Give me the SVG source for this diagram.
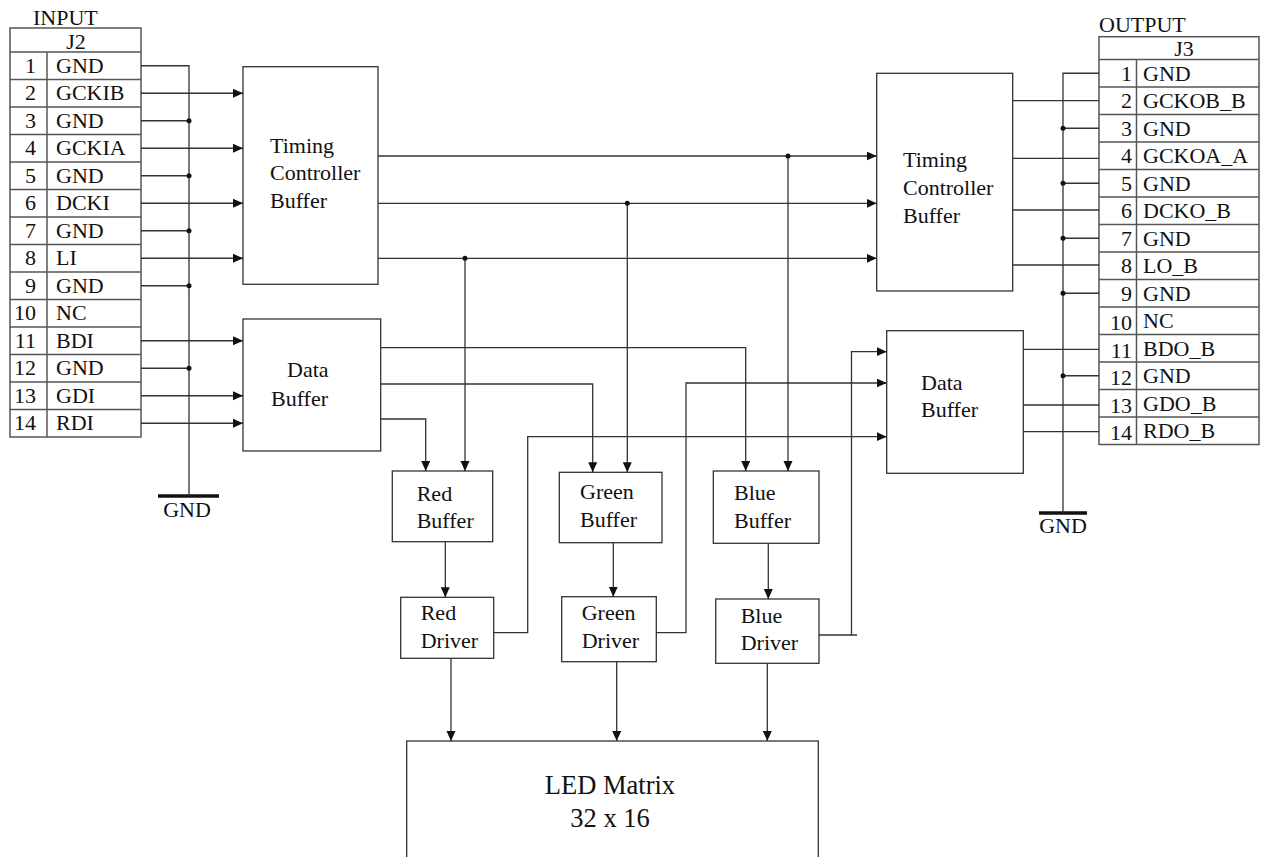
<svg xmlns="http://www.w3.org/2000/svg" width="1261" height="857" viewBox="0 0 1261 857" font-family="Liberation Serif, serif">
<style>
text{font-family:'Liberation Serif','Times New Roman',Times,'DejaVu Serif',serif;font-size:22px;fill:#111}
.big{font-size:26.5px}
.tbl{fill:none;stroke:#555;stroke-width:1.5}
.box{fill:#fff;stroke:#333;stroke-width:1.3}
.w{fill:none;stroke:#333;stroke-width:1.3}
.arr{fill:none;stroke:#333;stroke-width:1.3;marker-end:url(#ah)}
.dot{fill:#111}
.gbar{stroke:#111;stroke-width:3.5}
.num{text-anchor:end}
.mid{text-anchor:middle}
</style>
<defs>
<marker id="ah" markerUnits="userSpaceOnUse" markerWidth="11" markerHeight="10" refX="10" refY="4.5" orient="auto">
<path d="M0,0 L10,4.5 L0,9 Z" fill="#111"/>
</marker>
</defs>
<rect width="1261" height="857" fill="#fff"/>

<g id="J2">
<text x="33" y="25">INPUT</text>
<rect class="tbl" x="10" y="28" width="131" height="409"/>
<path class="tbl" d="M10,52H141M10,79.5H141M10,107H141M10,134.5H141M10,162H141M10,189.5H141M10,217H141M10,244.5H141M10,272H141M10,299.5H141M10,327H141M10,354.5H141M10,382H141M10,409.5H141M47,52V437"/>
<text class="mid" x="76" y="49">J2</text>
<text class="num" x="36" y="72.75">1</text><text x="56" y="72.75">GND</text>
<text class="num" x="36" y="100.25">2</text><text x="56" y="100.25">GCKIB</text>
<text class="num" x="36" y="127.75">3</text><text x="56" y="127.75">GND</text>
<text class="num" x="36" y="155.25">4</text><text x="56" y="155.25">GCKIA</text>
<text class="num" x="36" y="182.75">5</text><text x="56" y="182.75">GND</text>
<text class="num" x="36" y="210.25">6</text><text x="56" y="210.25">DCKI</text>
<text class="num" x="36" y="237.75">7</text><text x="56" y="237.75">GND</text>
<text class="num" x="36" y="265.25">8</text><text x="56" y="265.25">LI</text>
<text class="num" x="36" y="292.75">9</text><text x="56" y="292.75">GND</text>
<text class="num" x="36" y="320.25">10</text><text x="56" y="320.25">NC</text>
<text class="num" x="36" y="347.75">11</text><text x="56" y="347.75">BDI</text>
<text class="num" x="36" y="375.25">12</text><text x="56" y="375.25">GND</text>
<text class="num" x="36" y="402.75">13</text><text x="56" y="402.75">GDI</text>
<text class="num" x="36" y="430.25">14</text><text x="56" y="430.25">RDI</text>
</g>

<g id="J3">
<text x="1099" y="32">OUTPUT</text>
<rect class="tbl" x="1099" y="36.7" width="160" height="407.8"/>
<path class="tbl" d="M1099,59.5H1259M1099,87H1259M1099,114.5H1259M1099,142H1259M1099,169.5H1259M1099,197H1259M1099,224.5H1259M1099,252H1259M1099,279.5H1259M1099,307H1259M1099,334.5H1259M1099,362H1259M1099,389.5H1259M1099,417H1259M1136.5,59.5V444.5"/>
<text class="mid" x="1184" y="56">J3</text>
<text class="num" x="1132" y="80.5">1</text><text x="1143" y="80.5">GND</text>
<text class="num" x="1132" y="108">2</text><text x="1143" y="108">GCKOB_B</text>
<text class="num" x="1132" y="135.5">3</text><text x="1143" y="135.5">GND</text>
<text class="num" x="1132" y="163">4</text><text x="1143" y="163">GCKOA_A</text>
<text class="num" x="1132" y="190.5">5</text><text x="1143" y="190.5">GND</text>
<text class="num" x="1132" y="218">6</text><text x="1143" y="218">DCKO_B</text>
<text class="num" x="1132" y="245.5">7</text><text x="1143" y="245.5">GND</text>
<text class="num" x="1132" y="273">8</text><text x="1143" y="273">LO_B</text>
<text class="num" x="1132" y="300.5">9</text><text x="1143" y="300.5">GND</text>
<text class="num" x="1132" y="330">10</text><text x="1143" y="328">NC</text>
<text class="num" x="1132" y="357.5">11</text><text x="1143" y="355.5">BDO_B</text>
<text class="num" x="1132" y="385">12</text><text x="1143" y="383">GND</text>
<text class="num" x="1132" y="412.5">13</text><text x="1143" y="410.5">GDO_B</text>
<text class="num" x="1132" y="440">14</text><text x="1143" y="438">RDO_B</text>
</g>

<g id="tcb-in">
<rect class="box" x="243" y="66.7" width="135" height="217.6"/>
<text x="270" y="153">Timing</text>
<text x="270" y="180">Controller</text>
<text x="270" y="208">Buffer</text>
</g>

<g id="db-in">
<rect class="box" x="243" y="319" width="137.7" height="132"/>
<text x="287" y="377">Data</text>
<text x="271" y="406">Buffer</text>
</g>

<g id="tcb-out">
<rect class="box" x="876.7" y="73.3" width="136" height="217.7"/>
<text x="903" y="167">Timing</text>
<text x="903" y="195">Controller</text>
<text x="903" y="223">Buffer</text>
</g>

<g id="db-out">
<rect class="box" x="886.7" y="330.7" width="136.6" height="142.6"/>
<text x="921" y="390">Data</text>
<text x="921" y="417">Buffer</text>
</g>

<g id="red-buffer">
<rect class="box" x="392.3" y="471" width="100.4" height="70.7"/>
<text x="416.7" y="500.7">Red</text>
<text x="416.7" y="528.3">Buffer</text>
</g>
<g id="green-buffer">
<rect class="box" x="559.3" y="472.3" width="102.7" height="70.4"/>
<text x="580" y="499">Green</text>
<text x="580" y="526.7">Buffer</text>
</g>
<g id="blue-buffer">
<rect class="box" x="713.3" y="471" width="105.7" height="72.3"/>
<text x="734" y="500">Blue</text>
<text x="734" y="527.7">Buffer</text>
</g>

<g id="red-driver">
<rect class="box" x="400.7" y="597.3" width="93" height="61"/>
<text x="420.7" y="620">Red</text>
<text x="420.7" y="647.7">Driver</text>
</g>
<g id="green-driver">
<rect class="box" x="561.7" y="596.7" width="94.6" height="65"/>
<text x="581.7" y="620">Green</text>
<text x="581.7" y="647.7">Driver</text>
</g>
<g id="blue-driver">
<rect class="box" x="715.7" y="599" width="103.3" height="64.3"/>
<text x="740.7" y="623.3">Blue</text>
<text x="740.7" y="650">Driver</text>
</g>

<g id="led-matrix">
<rect class="box" x="406.7" y="741" width="411.6" height="130"/>
<text class="big mid" x="610" y="794.3">LED Matrix</text>
<text class="big mid" x="610" y="826.7">32 x 16</text>
</g>

<g id="gnd-left">
<line class="gbar" x1="158" y1="496" x2="219" y2="496"/>
<text class="mid" x="187" y="517">GND</text>
</g>
<g id="gnd-right">
<line class="gbar" x1="1039" y1="513" x2="1087" y2="513"/>
<text class="mid" x="1063" y="533">GND</text>
</g>

<g id="connectors">
<path class="w" d="M141,65.75H189V496"/>
<path class="w" d="M141,120.75H189M141,175.75H189M141,230.75H189M141,285.75H189M141,368.25H189"/>
<circle class="dot" cx="189" cy="120.75" r="2.5"/>
<circle class="dot" cx="189" cy="175.75" r="2.5"/>
<circle class="dot" cx="189" cy="230.75" r="2.5"/>
<circle class="dot" cx="189" cy="285.75" r="2.5"/>
<circle class="dot" cx="189" cy="368.25" r="2.5"/>
<path class="arr" d="M141,93.25H243"/>
<path class="arr" d="M141,148.25H243"/>
<path class="arr" d="M141,203.25H243"/>
<path class="arr" d="M141,258.25H243"/>
<path class="arr" d="M141,340.75H243"/>
<path class="arr" d="M141,395.75H243"/>
<path class="arr" d="M141,423.25H243"/>
<path class="arr" d="M378,156H876.7"/>
<path class="arr" d="M378,203.3H876.7"/>
<path class="arr" d="M378,258.3H876.7"/>
<path class="arr" d="M465,258.3V471"/>
<path class="arr" d="M627.3,203.3V472.3"/>
<path class="arr" d="M788,156V471"/>
<circle class="dot" cx="465" cy="258.3" r="2.5"/>
<circle class="dot" cx="627.3" cy="203.3" r="2.5"/>
<circle class="dot" cx="788" cy="156" r="2.5"/>
<path class="arr" d="M380.7,347.7H745.7V471"/>
<path class="arr" d="M380.7,384H592.7V472.3"/>
<path class="arr" d="M380.7,419H425.7V471"/>
<path class="arr" d="M445.3,541.7V597.3"/>
<path class="arr" d="M613.3,542.7V596.7"/>
<path class="arr" d="M768.3,543.3V599"/>
<path class="arr" d="M451,658.3V741"/>
<path class="arr" d="M616.7,661.7V741"/>
<path class="arr" d="M767.3,663.3V741"/>
<path class="arr" d="M493.7,632.7H527.7V436.7H886.7"/>
<path class="arr" d="M656.3,632.7H686V383H886.7"/>
<path class="w" d="M819,635H857"/>
<path class="arr" d="M851.5,635V351.7H886.7"/>
<path class="w" d="M1012.7,100.7H1099M1012.7,158.3H1099M1012.7,210H1099M1012.7,265H1099"/>
<path class="w" d="M1023.3,349.3H1099M1023.3,405H1099M1023.3,431.7H1099"/>
<path class="w" d="M1099,73.25H1063V513"/>
<path class="w" d="M1063,128.25H1099M1063,183.25H1099M1063,238.25H1099M1063,293.25H1099M1063,375.75H1099"/>
<circle class="dot" cx="1063" cy="128.25" r="2.5"/>
<circle class="dot" cx="1063" cy="183.25" r="2.5"/>
<circle class="dot" cx="1063" cy="238.25" r="2.5"/>
<circle class="dot" cx="1063" cy="293.25" r="2.5"/>
<circle class="dot" cx="1063" cy="375.75" r="2.5"/>
</g>
</svg>
